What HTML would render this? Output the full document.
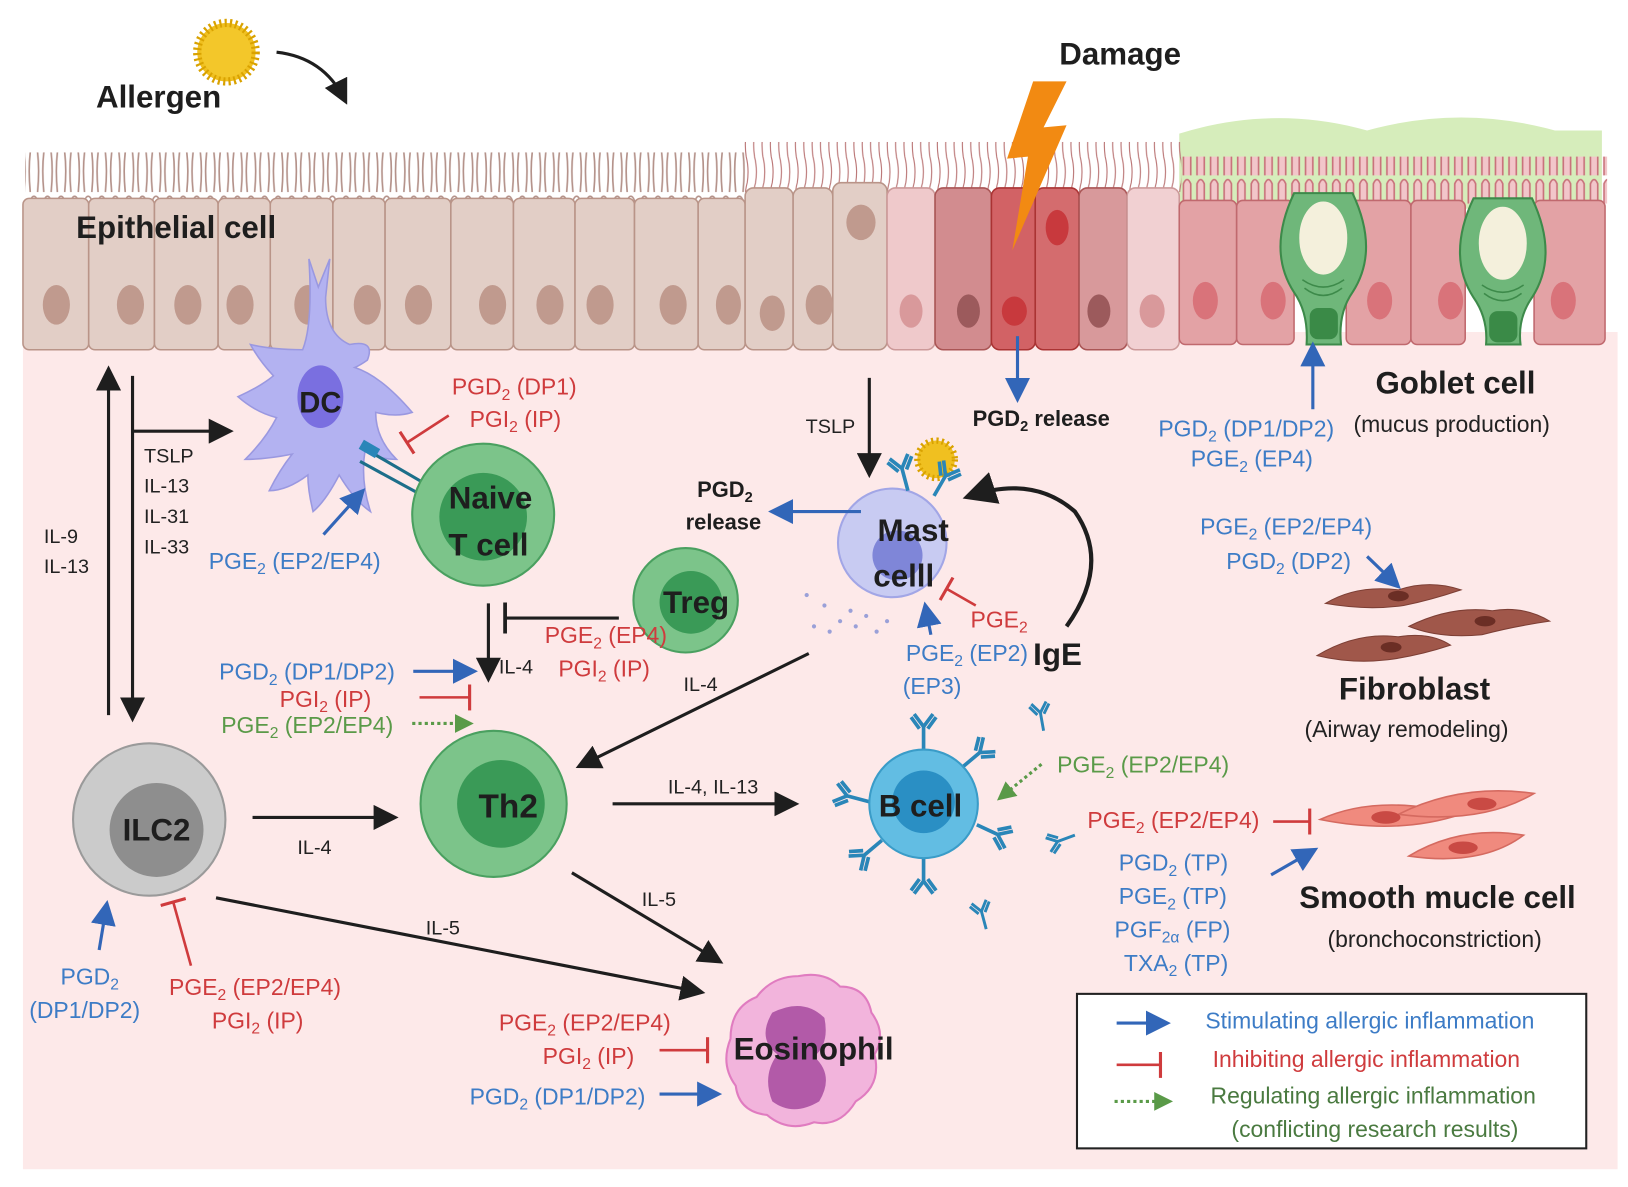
<!DOCTYPE html>
<html><head><meta charset="utf-8"><style>
html,body{margin:0;padding:0;background:#fff}
svg{display:block}
text{font-family:"Liberation Sans",sans-serif}
.b{font-weight:bold;fill:#1e1e1e}
.bl{fill:#3d7cc6;font-size:22px}
.rd{fill:#cf3b3d;font-size:22px}
.gr{fill:#5a9a48;font-size:22px}
.k{fill:#222;font-size:19px}
</style></head><body>
<svg width="1628" height="1187" viewBox="0 0 1560 1137" preserveAspectRatio="none" xmlns="http://www.w3.org/2000/svg">
<defs>
<marker id="ak" markerWidth="8" markerHeight="8" refX="6" refY="4" orient="auto" markerUnits="strokeWidth"><path d="M0,0 L8,4 L0,8 z" fill="#1e1e1e"/></marker>
<marker id="ab" markerWidth="8" markerHeight="8" refX="6" refY="4" orient="auto" markerUnits="strokeWidth"><path d="M0,0 L8,4 L0,8 z" fill="#3266b8"/></marker>
<marker id="ag" markerWidth="6" markerHeight="6" refX="4" refY="3" orient="auto" markerUnits="strokeWidth"><path d="M0,0 L6,3 L0,6 z" fill="#5a9a48"/></marker>
<marker id="tr" markerWidth="2" markerHeight="10" refX="1" refY="5" orient="auto" markerUnits="strokeWidth"><path d="M1,0 L1,10" stroke="#cf3b3d" stroke-width="1.2"/></marker>
<marker id="tk" markerWidth="2" markerHeight="10" refX="1" refY="5" orient="auto" markerUnits="strokeWidth"><path d="M1,0 L1,10" stroke="#1e1e1e" stroke-width="1.2"/></marker>
<pattern id="cil" width="13" height="46" patternUnits="userSpaceOnUse"><path d="M3,46 Q1,25 3,8 Q6.5,0 10,8 Q12,25 10,46" fill="none" stroke="#b4928a" stroke-width="1.6"/></pattern>
<pattern id="cilp" width="13" height="42" patternUnits="userSpaceOnUse"><path d="M3,42 L3,8 Q6.5,0 10,8 L10,42" fill="#f2c6ca" stroke="#c9737c" stroke-width="1.6"/></pattern>
<pattern id="cilt" width="8" height="50" patternUnits="userSpaceOnUse"><path d="M3,50 Q1,35 4,25 Q6,12 3,0" fill="none" stroke="#b77" stroke-width="1.1"/></pattern>
<g id="ab1"><path d="M0,0 L0,-22 M0,-22 L-9,-34 M0,-22 L9,-34 M-4,-20 L-12,-31 M4,-20 L12,-31" stroke="#2a86b8" stroke-width="3.5" fill="none"/></g>
</defs>
<rect width="1560" height="1137" fill="#fff"/>
<rect x="22" y="318" width="1528" height="802" fill="#fde9e9"/>
<!-- mucus -->
<path d="M1130,200 L1130,128 Q1220,100 1310,125 Q1400,100 1490,125 L1535,125 L1535,200 Z" fill="#d6edbb"/>
<!-- cilia -->
<rect x="24" y="146" width="690" height="48" fill="url(#cil)"/>
<rect x="712" y="136" width="420" height="48" fill="url(#cilt)"/>
<rect x="1130" y="150" width="410" height="45" fill="url(#cilp)"/>
<!-- beige cells -->
<g fill="#e2cec6" stroke="#b99488" stroke-width="1.5">
<rect x="22" y="190" width="63" height="145" rx="6"/><rect x="85" y="190" width="63" height="145" rx="6"/>
<rect x="148" y="190" width="61" height="145" rx="6"/><rect x="209" y="190" width="50" height="145" rx="6"/>
<rect x="259" y="190" width="60" height="145" rx="6"/><rect x="319" y="190" width="50" height="145" rx="6"/>
<rect x="369" y="190" width="63" height="145" rx="6"/><rect x="432" y="190" width="60" height="145" rx="6"/>
<rect x="492" y="190" width="59" height="145" rx="6"/><rect x="551" y="190" width="57" height="145" rx="6"/>
<rect x="608" y="190" width="61" height="145" rx="6"/><rect x="669" y="190" width="45" height="145" rx="6"/>
<rect x="714" y="180" width="46" height="155" rx="8"/><rect x="760" y="180" width="38" height="155" rx="8"/>
<rect x="798" y="175" width="52" height="160" rx="8"/>
</g>
<g fill="#c09a8e">
<ellipse cx="54" cy="292" rx="13" ry="19"/><ellipse cx="125" cy="292" rx="13" ry="19"/><ellipse cx="180" cy="292" rx="13" ry="19"/><ellipse cx="230" cy="292" rx="13" ry="19"/><ellipse cx="295" cy="292" rx="13" ry="19"/><ellipse cx="352" cy="292" rx="13" ry="19"/><ellipse cx="401" cy="292" rx="13" ry="19"/><ellipse cx="472" cy="292" rx="13" ry="19"/><ellipse cx="527" cy="292" rx="13" ry="19"/><ellipse cx="575" cy="292" rx="13" ry="19"/><ellipse cx="645" cy="292" rx="13" ry="19"/><ellipse cx="698" cy="292" rx="12" ry="19"/><ellipse cx="740" cy="300" rx="12" ry="17"/><ellipse cx="785" cy="292" rx="13" ry="19"/><ellipse cx="825" cy="213" rx="14" ry="17"/>
</g>
<!-- damaged cells -->
<rect x="850" y="180" width="46" height="155" rx="8" fill="#efc9cb" stroke="#c99" stroke-width="1.5"/>
<rect x="896" y="180" width="54" height="155" rx="8" fill="#d28c8f" stroke="#a55" stroke-width="1.5"/>
<rect x="950" y="180" width="42" height="155" rx="8" fill="#d26265" stroke="#a33" stroke-width="1.5"/>
<rect x="992" y="180" width="42" height="155" rx="8" fill="#d46c6e" stroke="#a33" stroke-width="1.5"/>
<rect x="1034" y="180" width="46" height="155" rx="8" fill="#d8999b" stroke="#a55" stroke-width="1.5"/>
<rect x="1080" y="180" width="50" height="155" rx="8" fill="#f1d0d2" stroke="#c99" stroke-width="1.5"/>
<g><ellipse cx="873" cy="298" rx="11" ry="16" fill="#d9999b"/><ellipse cx="928" cy="298" rx="11" ry="16" fill="#9c5a5c"/><ellipse cx="972" cy="298" rx="12" ry="14" fill="#c8393d"/><ellipse cx="1013" cy="218" rx="11" ry="17" fill="#c8393d"/><ellipse cx="1053" cy="298" rx="11" ry="16" fill="#9c5a5c"/><ellipse cx="1104" cy="298" rx="12" ry="16" fill="#d9999b"/></g>
<!-- right cells -->
<g fill="#e3a2a5" stroke="#c0696e" stroke-width="1.5">
<rect x="1130" y="192" width="55" height="138" rx="6"/><rect x="1185" y="192" width="55" height="138" rx="6"/>
<rect x="1290" y="192" width="62" height="138" rx="6"/><rect x="1352" y="192" width="52" height="138" rx="6"/>
<rect x="1470" y="192" width="68" height="138" rx="6"/>
</g>
<g fill="#d9737a"><ellipse cx="1155" cy="288" rx="12" ry="18"/><ellipse cx="1220" cy="288" rx="12" ry="18"/><ellipse cx="1322" cy="288" rx="12" ry="18"/><ellipse cx="1390" cy="288" rx="12" ry="18"/><ellipse cx="1498" cy="288" rx="12" ry="18"/></g>
<!-- goblets -->
<g fill="#6fb77a" stroke="#3d8a4a" stroke-width="2">
<path d="M1240,185 L1296,185 Q1322,240 1296,280 Q1282,300 1285,330 L1252,330 Q1254,300 1240,280 Q1214,240 1240,185 Z"/>
<path d="M1412,190 L1468,190 Q1494,245 1468,285 Q1454,305 1457,330 L1424,330 Q1426,305 1412,285 Q1386,245 1412,190 Z"/>
</g>
<g fill="#f4f0dc" stroke="#6fb77a" stroke-width="2"><ellipse cx="1268" cy="228" rx="24" ry="36"/><ellipse cx="1440" cy="233" rx="24" ry="36"/></g>
<g fill="none" stroke="#3d8a4a" stroke-width="1.5"><path d="M1248,268 Q1268,282 1288,268 M1250,276 Q1268,290 1286,276"/><path d="M1420,273 Q1440,287 1460,273 M1422,281 Q1440,295 1458,281"/></g>
<g fill="#3a8a47"><rect x="1255" y="295" width="27" height="30" rx="8"/><rect x="1427" y="298" width="27" height="30" rx="8"/></g>
<!-- allergen sun -->
<g transform="translate(217,50)"><circle r="28" fill="#f0c020" stroke="#d9a200" stroke-width="8" stroke-dasharray="2 3"/><circle r="24" fill="#f3c72a"/></g>
<path d="M265,50 Q310,55 330,95" fill="none" stroke="#1e1e1e" stroke-width="3" marker-end="url(#ak)"/>
<text x="92" y="103" class="b" font-size="30">Allergen</text>
<text x="1015" y="62" class="b" font-size="30">Damage</text>
<path d="M990,78 L1022,78 L1000,122 L1022,120 L970,240 L985,150 L965,152 Z" fill="#f28a12"/>
<text x="73" y="228" class="b" font-size="30">Epithelial cell</text>
<!-- DC -->
<path d="M296,248 L305,275 L316,248 L312,285 Q312,320 335,330 Q360,325 352,345 Q345,350 340,352 Q365,360 395,395 Q380,400 360,395 Q360,420 380,440 Q360,440 350,430 Q345,460 355,490 Q340,480 325,455 Q312,480 300,490 Q295,470 295,455 Q275,470 258,470 Q268,450 280,435 Q255,440 235,440 Q255,420 265,400 Q245,395 228,380 Q250,370 262,360 Q248,345 240,330 Q260,335 290,335 Q300,310 296,248 Z" fill="#b3b2f1" stroke="#9a98e0" stroke-width="1.5"/>
<ellipse cx="307" cy="380" rx="22" ry="30" fill="#7a6fe0"/>
<text x="307" y="395" class="b" font-size="28" text-anchor="middle">DC</text>
<path d="M350,430 L405,462 M345,442 L400,472" stroke="#1d6f8a" stroke-width="3"/>
<rect x="345" y="425" width="18" height="10" fill="#2a86b8" transform="rotate(30 354 430)"/>
<text x="433" y="378" class="rd">PGD<tspan font-size="15" dy="5">2</tspan><tspan dy="-5"> (DP1)</tspan></text>
<text x="450" y="409" class="rd">PGI<tspan font-size="15" dy="5">2</tspan><tspan dy="-5"> (IP)</tspan></text>
<path d="M430,398 L390,424" stroke="#cf3b3d" stroke-width="2.5" marker-end="url(#tr)"/>
<!-- Naive T -->
<circle cx="463" cy="493" r="68" fill="#7cc48a" stroke="#4aa060" stroke-width="2"/>
<circle cx="463" cy="495" r="42" fill="#3a9a57"/>
<text x="470" y="487" class="b" font-size="30" text-anchor="middle">Naive</text>
<text x="468" y="532" class="b" font-size="30" text-anchor="middle">T cell</text>
<!-- left arrows -->
<line x1="104" y1="685" x2="104" y2="356" stroke="#1e1e1e" stroke-width="3" marker-end="url(#ak)"/>
<line x1="127" y1="360" x2="127" y2="686" stroke="#1e1e1e" stroke-width="3" marker-end="url(#ak)"/>
<line x1="127" y1="413" x2="218" y2="413" stroke="#1e1e1e" stroke-width="3" marker-end="url(#ak)"/>
<g class="k"><text x="138" y="443" class="k">TSLP</text><text x="138" y="472" class="k">IL-13</text><text x="138" y="501" class="k">IL-31</text><text x="138" y="530" class="k">IL-33</text><text x="42" y="520" class="k">IL-9</text><text x="42" y="549" class="k">IL-13</text></g>
<text x="200" y="545" class="bl">PGE<tspan font-size="15" dy="5">2</tspan><tspan dy="-5"> (EP2/EP4)</tspan></text>
<line x1="310" y1="512" x2="346" y2="472" stroke="#3266b8" stroke-width="3" marker-end="url(#ab)"/>
<!-- Treg -->
<circle cx="657" cy="575" r="50" fill="#7cc48a" stroke="#4aa060" stroke-width="2"/>
<circle cx="662" cy="577" r="30" fill="#3a9a57"/>
<text x="667" y="587" class="b" font-size="30" text-anchor="middle">Treg</text>
<line x1="593" y1="592" x2="484" y2="592" stroke="#1e1e1e" stroke-width="3" marker-end="url(#tk)"/>
<line x1="468" y1="578" x2="468" y2="648" stroke="#1e1e1e" stroke-width="3" marker-end="url(#ak)"/>
<text x="478" y="645" class="k">IL-4</text>
<text x="522" y="616" class="rd">PGE<tspan font-size="15" dy="5">2</tspan><tspan dy="-5"> (EP4)</tspan></text>
<text x="535" y="648" class="rd">PGI<tspan font-size="15" dy="5">2</tspan><tspan dy="-5"> (IP)</tspan></text>
<text x="210" y="651" class="bl">PGD<tspan font-size="15" dy="5">2</tspan><tspan dy="-5"> (DP1/DP2)</tspan></text>
<line x1="396" y1="643" x2="452" y2="643" stroke="#3266b8" stroke-width="3" marker-end="url(#ab)"/>
<text x="268" y="677" class="rd">PGI<tspan font-size="15" dy="5">2</tspan><tspan dy="-5"> (IP)</tspan></text>
<line x1="402" y1="668" x2="450" y2="668" stroke="#cf3b3d" stroke-width="2.5" marker-end="url(#tr)"/>
<text x="212" y="702" class="gr">PGE<tspan font-size="15" dy="5">2</tspan><tspan dy="-5"> (EP2/EP4)</tspan></text>
<line x1="395" y1="693" x2="448" y2="693" stroke="#5a9a48" stroke-width="3" stroke-dasharray="3 3" marker-end="url(#ag)"/>
<!-- Th2 -->
<circle cx="473" cy="770" r="70" fill="#7cc48a" stroke="#4aa060" stroke-width="2"/>
<circle cx="480" cy="770" r="42" fill="#3a9a57"/>
<text x="487" y="783" class="b" font-size="32" text-anchor="middle">Th2</text>
<!-- ILC2 -->
<circle cx="143" cy="785" r="73" fill="#cbcbcb" stroke="#9a9a9a" stroke-width="2"/>
<circle cx="150" cy="795" r="45" fill="#8e8e8e"/>
<text x="150" y="805" class="b" font-size="30" text-anchor="middle">ILC2</text>
<line x1="242" y1="783" x2="376" y2="783" stroke="#1e1e1e" stroke-width="3" marker-end="url(#ak)"/>
<text x="285" y="818" class="k">IL-4</text>
<line x1="207" y1="860" x2="670" y2="950" stroke="#1e1e1e" stroke-width="3" marker-end="url(#ak)"/>
<text x="408" y="895" class="k">IL-5</text>
<line x1="548" y1="836" x2="688" y2="920" stroke="#1e1e1e" stroke-width="3" marker-end="url(#ak)"/>
<text x="615" y="868" class="k">IL-5</text>
<line x1="587" y1="770" x2="760" y2="770" stroke="#1e1e1e" stroke-width="3" marker-end="url(#ak)"/>
<text x="640" y="760" class="k">IL-4, IL-13</text>
<line x1="775" y1="626" x2="557" y2="733" stroke="#1e1e1e" stroke-width="3" marker-end="url(#ak)"/>
<text x="655" y="662" class="k">IL-4</text>
<text x="58" y="943" class="bl">PGD<tspan font-size="15" dy="5">2</tspan></text>
<text x="28" y="975" class="bl">(DP1/DP2)</text>
<line x1="95" y1="910" x2="102" y2="868" stroke="#3266b8" stroke-width="3" marker-end="url(#ab)"/>
<text x="162" y="953" class="rd">PGE<tspan font-size="15" dy="5">2</tspan><tspan dy="-5"> (EP2/EP4)</tspan></text>
<text x="203" y="985" class="rd">PGI<tspan font-size="15" dy="5">2</tspan><tspan dy="-5"> (IP)</tspan></text>
<line x1="183" y1="925" x2="166" y2="864" stroke="#cf3b3d" stroke-width="2.5" marker-end="url(#tr)"/>
<!-- Mast -->
<text x="772" y="415" class="k">TSLP</text>
<line x1="833" y1="362" x2="833" y2="452" stroke="#1e1e1e" stroke-width="3" marker-end="url(#ak)"/>
<line x1="975" y1="322" x2="975" y2="380" stroke="#3266b8" stroke-width="3" marker-end="url(#ab)"/>
<text x="932" y="408" class="b" font-size="21">PGD<tspan font-size="14" dy="5">2</tspan><tspan dy="-5"> release</tspan></text>
<circle cx="855" cy="520" r="52" fill="#c8cbf2" stroke="#a2a6e6" stroke-width="2"/>
<circle cx="860" cy="532" r="24" fill="#7f86d8"/>
<g fill="#9aa0d8"><circle cx="790" cy="580" r="2"/><circle cx="805" cy="595" r="2"/><circle cx="820" cy="600" r="2"/><circle cx="830" cy="590" r="2"/><circle cx="815" cy="585" r="2"/><circle cx="840" cy="605" r="2"/><circle cx="780" cy="600" r="2"/><circle cx="795" cy="605" r="2"/><circle cx="850" cy="595" r="2"/><circle cx="773" cy="570" r="2"/></g>
<g transform="translate(897,440)"><circle r="18" fill="#f0c020" stroke="#d9a200" stroke-width="6" stroke-dasharray="2 3"/></g>
<use href="#ab1" transform="translate(870,470) rotate(-15)"/>
<use href="#ab1" transform="translate(895,475) rotate(30)"/>
<text x="875" y="518" class="b" font-size="30" text-anchor="middle">Mast</text>
<text x="866" y="562" class="b" font-size="30" text-anchor="middle">celll</text>
<text x="668" y="476" class="b" font-size="21">PGD<tspan font-size="14" dy="5">2</tspan></text>
<text x="657" y="507" class="b" font-size="21">release</text>
<line x1="825" y1="490" x2="742" y2="490" stroke="#3266b8" stroke-width="3" marker-end="url(#ab)"/>
<text x="930" y="601" class="rd">PGE<tspan font-size="15" dy="5">2</tspan></text>
<line x1="935" y1="580" x2="907" y2="564" stroke="#cf3b3d" stroke-width="2.5" marker-end="url(#tr)"/>
<text x="868" y="633" class="bl">PGE<tspan font-size="15" dy="5">2</tspan><tspan dy="-5"> (EP2)</tspan></text>
<text x="865" y="665" class="bl">(EP3)</text>
<line x1="892" y1="608" x2="887" y2="582" stroke="#3266b8" stroke-width="3" marker-end="url(#ab)"/>
<text x="990" y="637" class="b" font-size="30">IgE</text>
<path d="M1022,600 Q1065,540 1030,490 Q990,455 930,475" fill="none" stroke="#1e1e1e" stroke-width="4" marker-end="url(#ak)"/>
<!-- B cell -->
<g>
<use href="#ab1" transform="translate(885,718)"/>
<use href="#ab1" transform="translate(922,735) rotate(50)"/>
<use href="#ab1" transform="translate(936,790) rotate(115)"/>
<use href="#ab1" transform="translate(885,822) rotate(180)"/>
<use href="#ab1" transform="translate(845,805) rotate(230)"/>
<use href="#ab1" transform="translate(833,768) rotate(-75)"/>
<use href="#ab1" transform="translate(1000,700) rotate(-10) scale(0.8)"/>
<use href="#ab1" transform="translate(1030,800) rotate(-110) scale(0.8)"/>
<use href="#ab1" transform="translate(945,890) rotate(-15) scale(0.8)"/>
</g>
<circle cx="885" cy="770" r="52" fill="#62bde3" stroke="#3a9cc8" stroke-width="2"/>
<circle cx="885" cy="768" r="30" fill="#2a8fc4"/>
<text x="882" y="782" class="b" font-size="30" text-anchor="middle">B cell</text>
<text x="1013" y="740" class="gr">PGE<tspan font-size="15" dy="5">2</tspan><tspan dy="-5"> (EP2/EP4)</tspan></text>
<line x1="998" y1="732" x2="960" y2="763" stroke="#5a9a48" stroke-width="3" stroke-dasharray="3 3" marker-end="url(#ag)"/>
<text x="1042" y="793" class="rd">PGE<tspan font-size="15" dy="5">2</tspan><tspan dy="-5"> (EP2/EP4)</tspan></text>
<line x1="1220" y1="787" x2="1255" y2="787" stroke="#cf3b3d" stroke-width="2.5" marker-end="url(#tr)"/>
<text x="1072" y="834" class="bl">PGD<tspan font-size="15" dy="5">2</tspan><tspan dy="-5"> (TP)</tspan></text>
<text x="1072" y="866" class="bl">PGE<tspan font-size="15" dy="5">2</tspan><tspan dy="-5"> (TP)</tspan></text>
<text x="1068" y="898" class="bl">PGF<tspan font-size="15" dy="5">2α</tspan><tspan dy="-5"> (FP)</tspan></text>
<text x="1077" y="930" class="bl">TXA<tspan font-size="15" dy="5">2</tspan><tspan dy="-5"> (TP)</tspan></text>
<line x1="1218" y1="838" x2="1258" y2="815" stroke="#3266b8" stroke-width="3" marker-end="url(#ab)"/>
<!-- smooth muscle -->
<g fill="#f08a7e" stroke="#d56a60" stroke-width="1.5">
<path d="M1265,785 Q1320,760 1400,780 Q1340,800 1265,785 Z"/>
<path d="M1340,780 Q1400,750 1470,760 Q1420,790 1340,780 Z"/>
<path d="M1350,820 Q1400,790 1460,800 Q1420,830 1350,820 Z"/>
</g>
<g fill="#c94a44"><ellipse cx="1328" cy="783" rx="14" ry="6"/><ellipse cx="1420" cy="770" rx="14" ry="6"/><ellipse cx="1402" cy="812" rx="14" ry="6"/></g>
<text x="1245" y="870" class="b" font-size="30">Smooth mucle cell</text>
<text x="1272" y="907" class="k" style="font-size:22px">(bronchoconstriction)</text>
<!-- goblet labels -->
<line x1="1258" y1="392" x2="1258" y2="333" stroke="#3266b8" stroke-width="3" marker-end="url(#ab)"/>
<text x="1318" y="377" class="b" font-size="30">Goblet cell</text>
<text x="1297" y="414" class="k" style="font-size:22px">(mucus production)</text>
<text x="1110" y="418" class="bl">PGD<tspan font-size="15" dy="5">2</tspan><tspan dy="-5"> (DP1/DP2)</tspan></text>
<text x="1141" y="447" class="bl">PGE<tspan font-size="15" dy="5">2</tspan><tspan dy="-5"> (EP4)</tspan></text>
<!-- fibroblast -->
<text x="1150" y="512" class="bl">PGE<tspan font-size="15" dy="5">2</tspan><tspan dy="-5"> (EP2/EP4)</tspan></text>
<text x="1175" y="545" class="bl">PGD<tspan font-size="15" dy="5">2</tspan><tspan dy="-5"> (DP2)</tspan></text>
<g fill="#a0574a" stroke="#7d3f35" stroke-width="1">
<path d="M1270,578 Q1300,560 1340,565 Q1370,555 1400,565 Q1370,575 1345,580 Q1310,585 1270,578 Z"/>
<path d="M1350,600 Q1390,580 1430,585 Q1460,580 1485,595 Q1450,600 1420,608 Q1380,612 1350,600 Z"/>
<path d="M1262,628 Q1300,605 1340,610 Q1370,605 1390,618 Q1360,628 1330,632 Q1295,636 1262,628 Z"/>
</g>
<g fill="#6b2e25"><ellipse cx="1340" cy="571" rx="10" ry="5"/><ellipse cx="1423" cy="595" rx="10" ry="5"/><ellipse cx="1333" cy="620" rx="10" ry="5"/></g>
<line x1="1310" y1="533" x2="1338" y2="560" stroke="#3266b8" stroke-width="3" marker-end="url(#ab)"/>
<text x="1283" y="670" class="b" font-size="30">Fibroblast</text>
<text x="1250" y="706" class="k" style="font-size:22px">(Airway remodeling)</text>
<!-- eosinophil -->
<path d="M765,935 Q790,930 805,945 Q830,945 835,970 Q850,990 838,1010 Q845,1040 820,1055 Q805,1080 780,1075 Q755,1085 735,1068 Q708,1065 705,1040 Q690,1020 700,995 Q700,965 725,955 Q740,935 765,935 Z" fill="#f2b4dc" stroke="#e07cc0" stroke-width="2"/>
<path d="M740,970 Q770,955 790,975 Q795,1000 780,1012 Q800,1030 785,1055 Q760,1070 740,1055 Q730,1030 745,1010 Q725,995 740,970 Z" fill="#b25aa8"/>
<text x="703" y="1015" class="b" font-size="30">Eosinophil</text>
<text x="478" y="987" class="rd">PGE<tspan font-size="15" dy="5">2</tspan><tspan dy="-5"> (EP2/EP4)</tspan></text>
<text x="520" y="1019" class="rd">PGI<tspan font-size="15" dy="5">2</tspan><tspan dy="-5"> (IP)</tspan></text>
<line x1="632" y1="1006" x2="678" y2="1006" stroke="#cf3b3d" stroke-width="2.5" marker-end="url(#tr)"/>
<text x="450" y="1058" class="bl">PGD<tspan font-size="15" dy="5">2</tspan><tspan dy="-5"> (DP1/DP2)</tspan></text>
<line x1="632" y1="1048" x2="686" y2="1048" stroke="#3266b8" stroke-width="3" marker-end="url(#ab)"/>
<!-- legend -->
<rect x="1032" y="952" width="488" height="148" fill="#fff" stroke="#222" stroke-width="2"/>
<line x1="1070" y1="980" x2="1116" y2="980" stroke="#3266b8" stroke-width="3" marker-end="url(#ab)"/>
<text x="1155" y="985" class="bl">Stimulating allergic inflammation</text>
<line x1="1070" y1="1020" x2="1112" y2="1020" stroke="#cf3b3d" stroke-width="2.5" marker-end="url(#tr)"/>
<text x="1162" y="1022" class="rd">Inhibiting  allergic inflammation</text>
<line x1="1068" y1="1055" x2="1118" y2="1055" stroke="#5a9a48" stroke-width="3" stroke-dasharray="3 3" marker-end="url(#ag)"/>
<text x="1160" y="1057" class="gr" style="fill:#4a7a40">Regulating allergic inflammation</text>
<text x="1180" y="1089" class="gr" style="fill:#4a7a40">(conflicting research results)</text>
</svg>
</body></html>
